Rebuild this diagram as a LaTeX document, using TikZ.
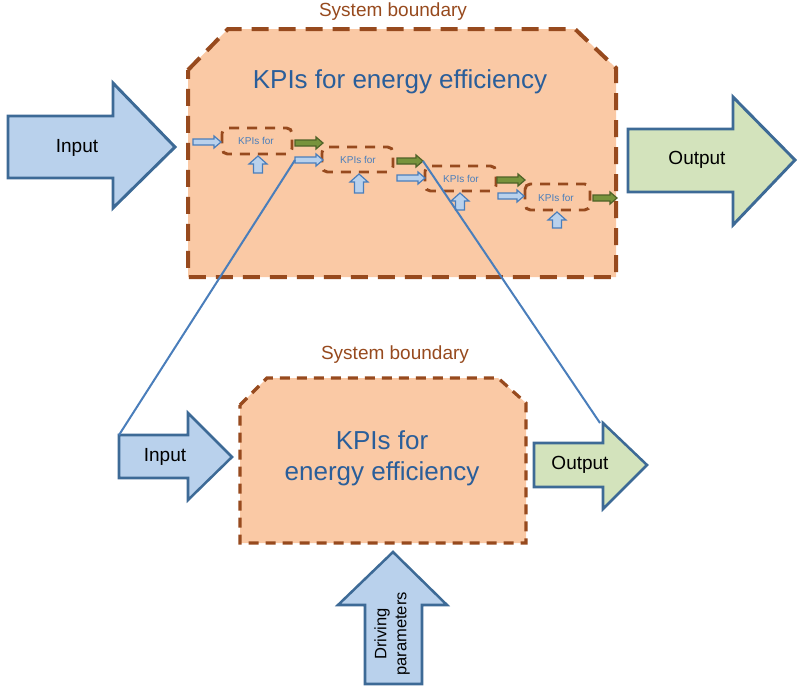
\documentclass[tikz,border=0pt]{standalone}
\usepackage{fontspec}
\setmainfont{Liberation Sans}
\usepackage{tikz}

\definecolor{peach}{HTML}{FAC9A5}
\definecolor{rust}{HTML}{974A1E}
\definecolor{kpiblue}{HTML}{2A5E9A}
\definecolor{lineblue}{HTML}{4A7EBB}
\definecolor{arrowedge}{HTML}{3D6A96}
\definecolor{inblue}{HTML}{B9D1EC}
\definecolor{outgreen}{HTML}{D3E3BC}
\definecolor{olive}{HTML}{77933C}
\definecolor{darkolive}{HTML}{4F6228}

\tikzset{
  bigarrow/.style={draw=arrowedge, line width=2.2pt, line join=miter},
  smallarrow/.style={draw=lineblue, fill=inblue, line width=0.9pt},
  greenarrow/.style={draw=darkolive, fill=olive, line width=0.9pt},
  stagebox/.style={draw=rust, line width=2.2pt, dash pattern=on 7.5pt off 6pt, rounded corners=4pt},
  stagetxt/.style={text=lineblue, font=\fontsize{7.5}{9}\selectfont, inner sep=0pt},
  zoomline/.style={draw=lineblue, line width=1.5pt},
}

\begin{document}
\begin{tikzpicture}[x=0.75pt,y=0.75pt,yscale=-1,xscale=1]
\useasboundingbox (0,0) rectangle (797,686);
\clip (0,0) rectangle (797,686);

%Shape: Polygon [id:sysbig]
\draw [draw=rust, fill=peach, line width=3pt, dash pattern=on 12.75pt off 7.5pt]  (188,70) -- (228,29) -- (575,29) -- (616,68) -- (616,277) -- (188,277) -- cycle ;
% Text Node
\node (bigtitle) [text=rust, font=\fontsize{14.25}{17}\selectfont] at (393,12) {System boundary};
% Text Node
\node (bigkpi) [text=kpiblue, font=\fontsize{19.5}{23.4}\selectfont] at (400,82) {KPIs for energy efficiency};

%Shape: stage boxes
\draw [stagebox]  (222,128) rectangle (292,154) ;
\draw [stagebox]  (322,147) rectangle (393,172) ;
\draw [stagebox]  (425,166) rectangle (496,191) ;
\draw [stagebox]  (525,184) rectangle (590,210) ;
% Text Node
\node (kpia) [stagetxt] at (256,141) {KPIs for};
\node (kpib) [stagetxt] at (358,160) {KPIs for};
\node (kpic) [stagetxt] at (461,179) {KPIs for};
\node (kpid) [stagetxt] at (556,198) {KPIs for};

%Shape: small input arrows
\draw [smallarrow]  (193,139) -- (214,139) -- (214,136) -- (221,142) -- (214,148) -- (214,145) -- (193,145) -- cycle ;
\draw [smallarrow]  (295,157) -- (316,157) -- (316,154) -- (323,160) -- (316,166) -- (316,163) -- (295,163) -- cycle ;
\draw [smallarrow]  (397,175) -- (418,175) -- (418,172) -- (425,178) -- (418,184) -- (418,181) -- (397,181) -- cycle ;
\draw [smallarrow]  (498,193) -- (517,193) -- (517,190) -- (524,196) -- (517,202) -- (517,199) -- (498,199) -- cycle ;
%Shape: green arrows
\draw [greenarrow]  (295,140) -- (316,140) -- (316,137) -- (323,143) -- (316,149) -- (316,146) -- (295,146) -- cycle ;
\draw [greenarrow]  (397,158) -- (416,158) -- (416,155) -- (423,161) -- (416,167) -- (416,164) -- (397,164) -- cycle ;
\draw [greenarrow]  (497,177) -- (518,177) -- (518,174) -- (525,180) -- (518,186) -- (518,183) -- (497,183) -- cycle ;
\draw [greenarrow]  (593,195) -- (610,195) -- (610,192) -- (617,198) -- (610,204) -- (610,201) -- (593,201) -- cycle ;
%Shape: small up arrows
\draw [smallarrow]  (258,156) -- (267,164) -- (262.5,164) -- (262.5,173) -- (253.5,173) -- (253.5,164) -- (249,164) -- cycle ;
\draw [smallarrow]  (359,174) -- (368,182) -- (363.5,182) -- (363.5,193) -- (354.5,193) -- (354.5,182) -- (350,182) -- cycle ;
\draw [smallarrow]  (460,193) -- (469,201) -- (464.5,201) -- (464.5,210) -- (455.5,210) -- (455.5,201) -- (451,201) -- cycle ;
\draw [smallarrow]  (557,212) -- (566,220) -- (561.5,220) -- (561.5,228) -- (552.5,228) -- (552.5,220) -- (548,220) -- cycle ;

%Shape: Polygon [id:bigin]
\draw [bigarrow, fill=inblue]  (8,116) -- (113,116) -- (113,83) -- (175,147) -- (113,208) -- (113,178) -- (8,178) -- cycle ;
\node (bigintxt) [font=\fontsize{14.25}{17}\selectfont] at (77,148) {Input};
%Shape: Polygon [id:bigout]
\draw [bigarrow, fill=outgreen]  (628,129) -- (733,129) -- (733,97) -- (795,160) -- (733,225) -- (733,192) -- (628,192) -- cycle ;
\node (bigouttxt) [font=\fontsize{14.25}{17}\selectfont] at (697,160) {Output};

%Shape: Polygon [id:syssmall]
\draw [draw=rust, fill=peach, line width=2.4pt, dash pattern=on 7.5pt off 5.25pt]  (240,405) -- (267,378) -- (498,378) -- (526,403) -- (526,543) -- (240,543) -- cycle ;
% Text Node
\node (smalltitle) [text=rust, font=\fontsize{14.25}{17}\selectfont] at (395,355) {System boundary};
% Text Node
\node (smallkpi) [text=kpiblue, align=center, font=\fontsize{19.5}{23.4}\selectfont] at (382,458) {KPIs for\\energy efficiency};

%Shape: Polygon [id:smallin]
\draw [bigarrow, line width=1.9pt, fill=inblue]  (119,435) -- (188,435) -- (188,413) -- (232,457) -- (188,500) -- (188,478) -- (119,478) -- cycle ;
\node (smallintxt) [font=\fontsize{14.25}{17}\selectfont] at (165,457) {Input};
%Shape: Polygon [id:smallout]
\draw [bigarrow, line width=1.9pt, fill=outgreen]  (534,443) -- (603,443) -- (603,423) -- (647,465) -- (603,509) -- (603,487) -- (534,487) -- cycle ;
\node (smallouttxt) [font=\fontsize{14.25}{17}\selectfont] at (580,465) {Output};
%Shape: Polygon [id:driving]
\draw [bigarrow, line width=1.9pt, fill=inblue]  (393,552) -- (447,605) -- (422,605) -- (422,684) -- (365,684) -- (365,605) -- (338,605) -- cycle ;
\node (drivetxt) [rotate=90, align=center, font=\fontsize{12.4}{15}\selectfont] at (392,634) {Driving\\parameters};

% zoom lines
\coordinate (zoomA) at (119,435) ;
\coordinate (zoomB) at (295,160) ;
\coordinate (zoomC) at (423,161) ;
\coordinate (zoomD) at (600,423) ;
\draw [zoomline]  (zoomA) -- (zoomB) ;
\draw [zoomline]  (zoomC) -- (zoomD) ;

\end{tikzpicture}
\end{document}
